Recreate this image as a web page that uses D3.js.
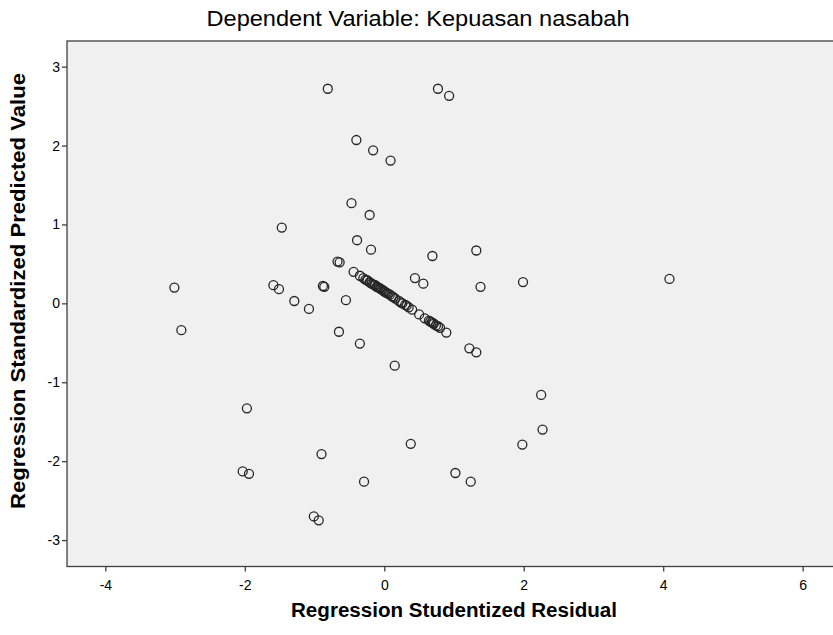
<!DOCTYPE html>
<html><head><meta charset="utf-8">
<script src="https://cdn.jsdelivr.net/npm/d3@7"></script>
<style>
html,body{margin:0;padding:0;background:#fff;}
svg{display:block;}
text{font-family:"Liberation Sans",Arial,sans-serif;fill:#000;}
</style></head>
<body>
<svg id="c" width="833" height="635"></svg>
<script>
const title = "Dependent Variable: Kepuasan nasabah";
const xLabel = "Regression Studentized Residual";
const yLabel = "Regression Standardized Predicted Value";
const xTicks = [-4, -2, 0, 2, 4, 6];
const yTicks = [-3, -2, -1, 0, 1, 2, 3];
const xDomain = [-4.55, 6.55];
const yDomain = [-3.335, 3.325];

// studentized residuals
const residual = [
 -0.81, 0.77, 0.93, -0.40, -0.16, 0.09, -0.47, -0.21, -1.47, -0.39,
 -0.19, 0.69, 1.32, -0.67, -0.64, 0.44, 0.56, 1.38, 1.99, 4.09,
 -3.01, -1.59, -1.51, -0.88, -0.86, -1.29, -1.08, -0.55, -2.91, -0.65,
 -0.35, 0.15, 1.22, 1.32, 2.25, 2.27, 1.98, 0.38, -0.29, 1.02,
 1.24, -1.97, -0.90, -2.03, -1.94, -1.01, -0.94,
 -0.44, -0.35, -0.30, -0.27, -0.24, -0.21, -0.18, -0.16, -0.13, -0.11,
 -0.08, -0.06, -0.03, 0.00, 0.04, 0.08, 0.13, 0.16, 0.21, 0.26,
 0.30, 0.35, 0.40, 0.50, 0.58, 0.64, 0.68, 0.71, 0.74, 0.80, 0.89,
 -0.25, -0.20, -0.14, -0.10, -0.05, -0.01, 0.02, 0.06, 0.11, 0.24, 0.32, 0.66, 0.70, 0.77
];
// standardized predicted values
const predicted = [
 2.72, 2.72, 2.63, 2.07, 1.94, 1.81, 1.27, 1.12, 0.96, 0.80,
 0.68, 0.60, 0.67, 0.53, 0.52, 0.32, 0.25, 0.21, 0.27, 0.31,
 0.20, 0.23, 0.18, 0.22, 0.21, 0.03, -0.07, 0.04, -0.34, -0.36,
 -0.51, -0.79, -0.57, -0.62, -1.16, -1.60, -1.79, -1.78, -2.26, -2.15,
 -2.26, -1.33, -1.91, -2.13, -2.16, -2.70, -2.75,
 0.40, 0.35, 0.32, 0.30, 0.29, 0.27, 0.25, 0.24, 0.23, 0.21,
 0.20, 0.19, 0.17, 0.15, 0.13, 0.11, 0.08, 0.06, 0.03, 0.00,
 -0.02, -0.05, -0.08, -0.14, -0.19, -0.22, -0.24, -0.26, -0.28, -0.31, -0.37,
 0.29, 0.26, 0.23, 0.21, 0.18, 0.16, 0.14, 0.12, 0.09, 0.01, -0.03, -0.23, -0.25, -0.29
];

const svg = d3.select("#c");
const L = 67, R = 841, T = 41, B = 566.5;
const x = d3.scaleLinear().domain(xDomain).range([L, R]);
const y = d3.scaleLinear().domain(yDomain).range([B, T]);

svg.append("rect").attr("x", L).attr("y", T).attr("width", R - L).attr("height", B - T)
  .attr("fill", "#f0f0f0").attr("stroke", "#404040").attr("stroke-width", 1.3);

const xa = svg.append("g").attr("transform", `translate(0,${B})`)
  .call(d3.axisBottom(x).tickValues(xTicks).tickSize(5).tickPadding(9).tickFormat(d => String(d)));
const ya = svg.append("g").attr("transform", `translate(${L},0)`)
  .call(d3.axisLeft(y).tickValues(yTicks).tickSize(5).tickPadding(2).tickFormat(d => String(d)));
[xa, ya].forEach(a => {
  a.select(".domain").remove();
  a.selectAll(".tick line").attr("stroke", "#404040").attr("stroke-width", 1.3);
  a.selectAll(".tick text").attr("font-size", 14).attr("fill", "#111");
});

const pts = residual.map((r, i) => ({ r, p: predicted[i] }));
svg.append("g").selectAll("circle").data(pts).join("circle")
  .attr("cx", d => x(d.r)).attr("cy", d => y(d.p)).attr("r", 4.5)
  .attr("fill", "none").attr("stroke", "#262626").attr("stroke-width", 1.3);

svg.append("text").attr("x", 418).attr("y", 26).attr("text-anchor", "middle")
  .attr("font-size", 22).attr("textLength", 423).attr("lengthAdjust", "spacingAndGlyphs").text(title);
svg.append("text").attr("x", 454).attr("y", 617).attr("text-anchor", "middle")
  .attr("font-size", 20).attr("font-weight", "bold")
  .attr("textLength", 326).attr("lengthAdjust", "spacingAndGlyphs").text(xLabel);
svg.append("text").attr("transform", `translate(25,291) rotate(-90)`).attr("text-anchor", "middle")
  .attr("font-size", 21).attr("font-weight", "bold")
  .attr("textLength", 436).attr("lengthAdjust", "spacingAndGlyphs").text(yLabel);
</script>
</body></html>
